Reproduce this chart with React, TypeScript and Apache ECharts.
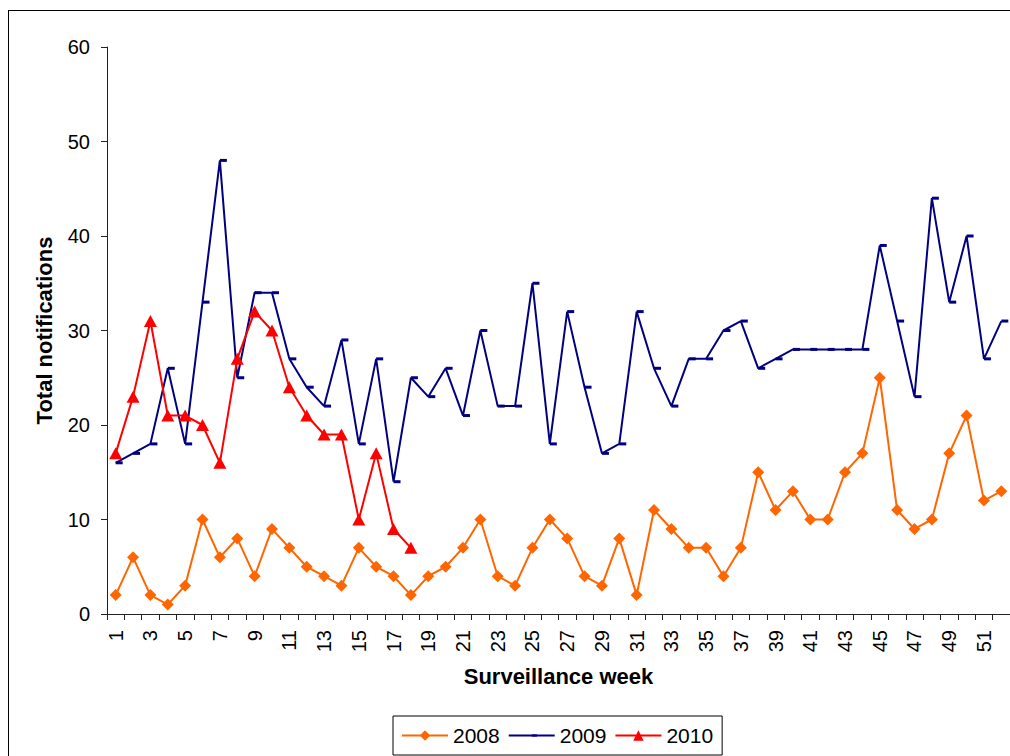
import React, { useEffect, useRef } from "react";
import * as echarts from "echarts";

const weeks: string[] = Array.from({ length: 52 }, (_, i) => String(i + 1));

const series2008: number[] = [
  2, 6, 2, 1, 3, 10, 6, 8, 4, 9, 7, 5, 4, 3, 7, 5, 4, 2, 4, 5, 7, 10, 4, 3, 7, 10,
  8, 4, 3, 8, 2, 11, 9, 7, 7, 4, 7, 15, 11, 13, 10, 10, 15, 17, 25, 11, 9, 10, 17, 21, 12, 13,
];

const series2009: number[] = [
  16, 17, 18, 26, 18, 33, 48, 25, 34, 34, 27, 24, 22, 29, 18, 27, 14, 25, 23, 26, 21, 30, 22, 22, 35, 18,
  32, 24, 17, 18, 32, 26, 22, 27, 27, 30, 31, 26, 27, 28, 28, 28, 28, 28, 39, 31, 23, 44, 33, 40, 27, 31,
];

const series2010: number[] = [17, 23, 31, 21, 21, 20, 16, 27, 32, 30, 24, 21, 19, 19, 10, 17, 9, 7];

const seriesNames = ["2008", "2009", "2010"];
const yTicks = { min: 0, max: 60, interval: 10 };

const FONT = "'Liberation Sans', Arial, sans-serif";
// small horizontal dash, drawn to the right of the point, inside a square box
const DASH = "path://M0,0M14,14M7,5.5h7v3h-7z";

export default function App() {
  const ref = useRef<HTMLDivElement>(null);

  useEffect(() => {
    if (!ref.current) return;
    const chart = echarts.init(ref.current, undefined, { renderer: "svg" });
    chart.setOption({
      animation: false,
      backgroundColor: "#ffffff",
      textStyle: { fontFamily: FONT },
      graphic: [
        {
          type: "line",
          shape: { x1: 8.5, y1: 10, x2: 8.5, y2: 756 },
          style: { stroke: "#000000", lineWidth: 1 },
          silent: true,
        },
        {
          type: "line",
          shape: { x1: 8, y1: 10.5, x2: 1010, y2: 10.5 },
          style: { stroke: "#000000", lineWidth: 1 },
          silent: true,
        },
      ],
      grid: { left: 107, top: 47, right: 0, bottom: 756 - 614, containLabel: false },
      legend: {
        left: 393,
        top: 716,
        padding: [9, 9, 9, 8],
        itemGap: 8,
        itemWidth: 46,
        itemHeight: 13,
        borderColor: "#000000",
        borderWidth: 1,
        textStyle: { fontSize: 21, color: "#000000", fontFamily: FONT },
        data: seriesNames,
      },
      xAxis: {
        type: "category",
        data: weeks,
        boundaryGap: true,
        name: "Surveillance week",
        nameLocation: "middle",
        nameGap: 51,
        nameTextStyle: { fontSize: 22, fontWeight: "bold", color: "#000000", fontFamily: FONT },
        axisLine: { show: true, lineStyle: { color: "#222222", width: 1 } },
        axisTick: { show: true, interval: 0, length: 6, inside: false, lineStyle: { color: "#222222" } },
        axisLabel: {
          interval: 1,
          rotate: 90,
          margin: 16,
          fontSize: 20,
          color: "#000000",
          fontFamily: FONT,
        },
        splitLine: { show: false },
      },
      yAxis: {
        type: "value",
        min: yTicks.min,
        max: yTicks.max,
        interval: yTicks.interval,
        name: "Total notifications",
        nameLocation: "middle",
        nameGap: 52,
        nameTextStyle: { fontSize: 22, fontWeight: "bold", color: "#000000", fontFamily: FONT },
        axisLine: { show: true, lineStyle: { color: "#222222", width: 1 } },
        axisTick: { show: true, length: 6, inside: false, lineStyle: { color: "#222222" } },
        axisLabel: { margin: 17, fontSize: 20, color: "#000000", fontFamily: FONT },
        splitLine: { show: false },
      },
      series: [
        {
          name: seriesNames[0],
          type: "line",
          data: series2008,
          symbol: "diamond",
          symbolSize: 12,
          showAllSymbol: true,
          itemStyle: { color: "#FF6600" },
          lineStyle: { color: "#FF6600", width: 2 },
          z: 2,
        },
        {
          name: seriesNames[1],
          type: "line",
          data: series2009,
          symbol: DASH,
          symbolSize: 14,
          showAllSymbol: true,
          itemStyle: { color: "#000080" },
          lineStyle: { color: "#000080", width: 2 },
          z: 3,
        },
        {
          name: seriesNames[2],
          type: "line",
          data: series2010,
          symbol: "triangle",
          symbolSize: [13, 12],
          showAllSymbol: true,
          itemStyle: { color: "#FF0000" },
          lineStyle: { color: "#FF0000", width: 2 },
          z: 4,
        },
      ],
    });
    return () => chart.dispose();
  }, []);

  return (
    <div
      ref={ref}
      style={{ position: "fixed", left: 0, top: 0, width: 1010, height: 756, background: "#fff" }}
    />
  );
}
